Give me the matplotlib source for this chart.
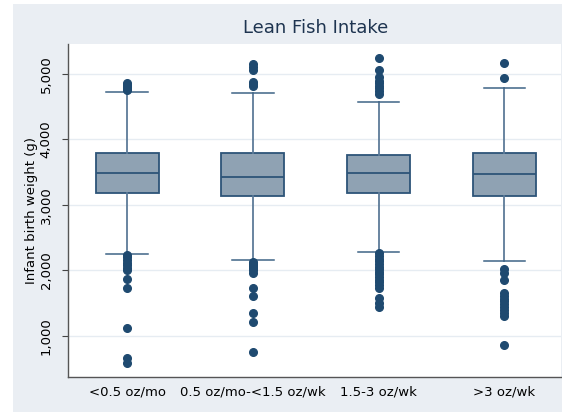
import matplotlib
matplotlib.use("Agg")
import matplotlib.pyplot as plt
from matplotlib.patches import Rectangle

# categories and box summaries
groups = ["<0.5 oz/mo", "0.5 oz/mo-<1.5 oz/wk", "1.5-3 oz/wk", ">3 oz/wk"]
q1 = [3178, 3137, 3178, 3137]
medians = [3493, 3432, 3484, 3468]
q3 = [3789, 3789, 3763, 3789]
whisk_lo = [2257, 2155, 2287, 2150]
whisk_hi = [4730, 4705, 4577, 4781]

outliers = [
    [4860, 4830, 4800, 4770, 4750,
     2240, 2200, 2160, 2120, 2080, 2040, 2005, 1870, 1728, 1127, 660, 583],
    [5148, 5100, 5061, 4883, 4850, 4823,
     2134, 2100, 2069, 2040, 2008, 1957, 1735, 1611, 1356, 1210, 760],
    [5239, 5061, 4959, 4900, 4860, 4820, 4780, 4740, 4700,
     2260, 2220, 2180, 2140, 2100, 2060, 2020, 1980, 1940, 1900, 1860, 1820, 1780, 1740,
     1576, 1510, 1448],
    [5163, 4944,
     2018, 1957, 1855, 1652, 1610, 1570, 1530, 1490, 1450, 1400, 1350, 1300, 863],
]

bg = "#eaeef3"
navy = "#1f4a70"

stats = []
for i in range(len(groups)):
    stats.append({"label": groups[i], "q1": q1[i], "med": medians[i], "q3": q3[i],
                  "whislo": whisk_lo[i], "whishi": whisk_hi[i], "fliers": outliers[i]})

fig = plt.figure(figsize=(5.62, 4.12), dpi=100)
fig.patch.set_facecolor("white")
# stata style light grey-blue outer region
fig.patches.append(Rectangle((13 / 562, 0), 1 - 13 / 562, 1 - 4 / 412,
                             transform=fig.transFigure, facecolor=bg,
                             edgecolor="none", zorder=-10))

ax = fig.add_axes([68 / 562, 35 / 412, (561 - 68) / 562, (377 - 44) / 412])
ax.set_facecolor("white")

ax.bxp(stats, positions=[1, 2, 3, 4], widths=0.5, patch_artist=True,
       boxprops=dict(facecolor="#8fa2b3", edgecolor="#2d5478", linewidth=1.3),
       medianprops=dict(color="#2d5478", linewidth=1.3),
       whiskerprops=dict(color="#5d7b98", linewidth=1.3),
       capprops=dict(color="#3f6486", linewidth=1.1),
       capwidths=0.33,
       flierprops=dict(marker="o", markerfacecolor=navy, markeredgecolor=navy,
                       markersize=5.5, linestyle="none"))

ax.set_xlim(0.53, 4.45)
ax.set_ylim(374, 5458)
ax.set_yticks([1000, 2000, 3000, 4000, 5000])
ax.set_yticklabels(["1,000", "2,000", "3,000", "4,000", "5,000"],
                   rotation=90, va="center", fontsize=9.5)
ax.yaxis.grid(True, color="#e6ecf2", linewidth=1)
ax.set_axisbelow(True)
ax.tick_params(axis="y", length=4, color="#444444", pad=7)
ax.tick_params(axis="x", length=0, labelsize=9.5, pad=6)

for s in ["top", "right"]:
    ax.spines[s].set_visible(False)
for s in ["left", "bottom"]:
    ax.spines[s].set_color("#555555")
    ax.spines[s].set_linewidth(1.0)

ax.set_ylabel("Infant birth weight (g)", fontsize=9.5, labelpad=1)
fig.text(316 / 562, 1 - 28 / 412, "Lean Fish Intake", ha="center",
         va="center", fontsize=13, color="#1e3450")

fig.savefig("out.png", dpi=100, facecolor=fig.get_facecolor())
